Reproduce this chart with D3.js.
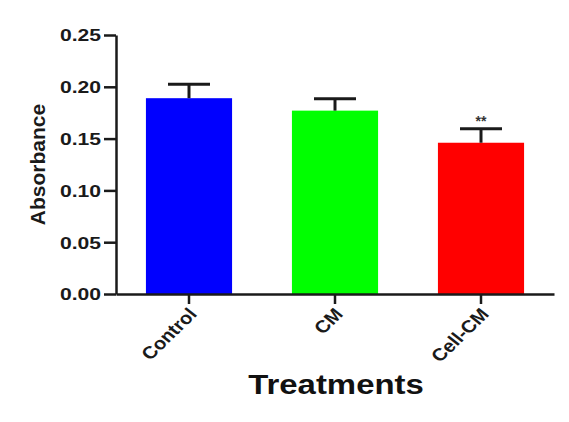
<!DOCTYPE html>
<html>
<head>
<meta charset="utf-8">
<script src="https://cdn.jsdelivr.net/npm/d3@7"></script>
<style>
  body { margin: 0; background: #fff; }
  text { font-family: "Liberation Sans", Arial, sans-serif; }
</style>
</head>
<body>
<div id="chart"></div>
<script>
// data
const treatments = ["Control", "CM", "Cell-CM"];
const means = [0.189, 0.177, 0.146];
const errors = [0.0135, 0.0115, 0.0135];
const barColors = ["#0000ff", "#00ff00", "#ff0000"];
const significance = ["", "", "**"];
const yTicks = [0, 0.05, 0.10, 0.15, 0.20, 0.25];

const width = 569;
const height = 422;
const margin = { top: 35, right: 15, bottom: 128, left: 116 };
const stretch = 1.28; // the source image is a bit wide, text looks stretched

const svg = d3.select("#chart")
    .append("svg")
    .attr("width", width)
    .attr("height", height);

const x = d3.scaleBand()
    .domain(treatments)
    .range([margin.left, width - margin.right])
    .paddingInner(0.41)
    .paddingOuter(0.205);

const y = d3.scaleLinear()
    .domain([0, 0.25])
    .range([height - margin.bottom, margin.top]);

// bars
svg.append("g")
    .selectAll("rect")
    .data(treatments)
    .enter()
    .append("rect")
    .attr("x", (d) => x(d))
    .attr("y", (d, i) => y(means[i]))
    .attr("width", x.bandwidth())
    .attr("height", (d, i) => y(0) - y(means[i]))
    .style("fill", (d, i) => barColors[i]);

// error bars (upper only)
const err = svg.append("g")
    .selectAll("g")
    .data(treatments)
    .enter()
    .append("g")
    .style("stroke", "#1a1a1a")
    .style("stroke-width", 3);

err.append("line")
    .attr("x1", (d) => x(d) + x.bandwidth() / 2)
    .attr("x2", (d) => x(d) + x.bandwidth() / 2)
    .attr("y1", (d, i) => y(means[i]))
    .attr("y2", (d, i) => y(means[i] + errors[i]));

err.append("line")
    .attr("x1", (d) => x(d) + x.bandwidth() / 2 - 21)
    .attr("x2", (d) => x(d) + x.bandwidth() / 2 + 21)
    .attr("y1", (d, i) => y(means[i] + errors[i]))
    .attr("y2", (d, i) => y(means[i] + errors[i]));

// significance stars
svg.append("g")
    .selectAll("text")
    .data(treatments)
    .enter()
    .append("text")
    .attr("x", (d) => x(d) + x.bandwidth() / 2)
    .attr("y", (d, i) => y(means[i] + errors[i]) - 3)
    .attr("text-anchor", "middle")
    .style("font-size", "14px")
    .style("font-weight", "bold")
    .style("fill", "#333")
    .text((d, i) => significance[i]);

// y axis
const yAxis = svg.append("g")
    .attr("transform", `translate(${margin.left},0)`)
    .call(d3.axisLeft(y).tickValues(yTicks).tickFormat(d3.format(".2f")).tickSize(12).tickSizeOuter(0));
yAxis.select(".domain").style("stroke", "#1a1a1a").style("stroke-width", 2.5);
yAxis.selectAll(".tick line").style("stroke", "#1a1a1a").style("stroke-width", 2.5);
yAxis.selectAll(".tick text")
    .attr("x", -15 / stretch)
    .attr("dy", "0.36em")
    .attr("transform", `scale(${stretch},1)`)
    .style("font-size", "16.5px")
    .style("font-weight", "bold")
    .style("fill", "#1a1a1a");

// x axis
const xAxis = svg.append("g")
    .attr("transform", `translate(0,${y(0)})`)
    .call(d3.axisBottom(x).tickSize(10).tickSizeOuter(0));
xAxis.select(".domain").style("stroke", "#1a1a1a").style("stroke-width", 2.5);
xAxis.selectAll(".tick line").style("stroke", "#1a1a1a").style("stroke-width", 2.5);
xAxis.selectAll(".tick text")
    .attr("text-anchor", "end")
    .attr("y", 0)
    .attr("dy", 0)
    .attr("transform", "translate(9,21) scale(1.15,1) rotate(-48)")
    .style("font-size", "17.5px")
    .style("font-weight", "bold")
    .style("fill", "#1a1a1a");

// axis titles
svg.append("text")
    .attr("transform", `translate(45,${(y(0) + y(0.25)) / 2}) rotate(-90)`)
    .attr("text-anchor", "middle")
    .style("font-size", "21px")
    .style("font-weight", "bold")
    .style("fill", "#1a1a1a")
    .text("Absorbance");

svg.append("text")
    .attr("transform", `translate(336,394) scale(1.22,1)`)
    .attr("text-anchor", "middle")
    .style("font-size", "27px")
    .style("font-weight", "bold")
    .style("fill", "#111")
    .text("Treatments");
</script>
</body>
</html>
